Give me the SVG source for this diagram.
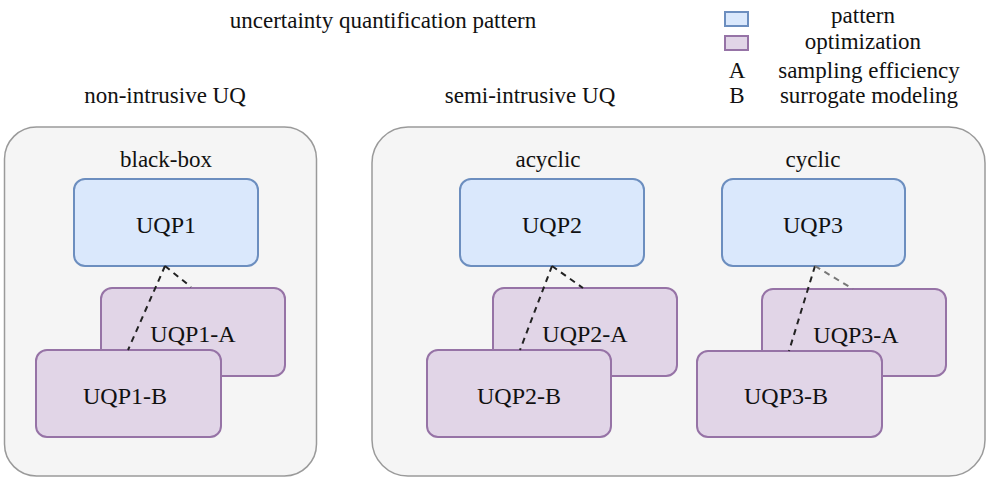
<svg xmlns="http://www.w3.org/2000/svg" width="987" height="481" viewBox="0 0 987 481">
<style>
text{font-family:"Liberation Serif","Times New Roman",serif;font-size:23px;fill:#111;text-anchor:middle}
.node text{font-size:24px}
.cont{fill:#f5f5f5;stroke:#9a9a9a;stroke-width:1.5}
.pat{fill:#dae8fc;stroke:#6c8ebf;stroke-width:2}
.opt{fill:#e1d5e7;stroke:#9673a6;stroke-width:2}
.dash{stroke:#222;stroke-width:2;stroke-dasharray:6 5;fill:none}
.dashg{stroke:#777;stroke-width:2;stroke-dasharray:6 5;fill:none}
</style>
<rect width="987" height="481" fill="#fff"/>
<text x="383" y="28">uncertainty quantification pattern</text>
<g id="legend">
<rect class="pat" x="725" y="12" width="23" height="14"/>
<rect class="opt" x="725" y="36" width="23" height="14"/>
<text x="863" y="23">pattern</text>
<text x="863" y="49">optimization</text>
<text x="737" y="78">A</text>
<text x="869" y="78">sampling efficiency</text>
<text x="737" y="103">B</text>
<text x="869" y="103">surrogate modeling</text>
</g>
<g id="nonintrusive">
<text x="165" y="103">non-intrusive UQ</text>
<rect class="cont" x="4.5" y="127" width="312" height="349" rx="32"/>
<text x="166" y="167">black-box</text>
</g>
<g id="semiintrusive">
<text x="530" y="103">semi-intrusive UQ</text>
<rect class="cont" x="372" y="127" width="613" height="349" rx="36"/>
<text x="548" y="167">acyclic</text>
<text x="813" y="167">cyclic</text>
</g>
<g id="UQP1" class="node"><rect class="pat" x="74" y="179" width="184" height="87" rx="11"/><text x="166" y="233">UQP1</text></g>
<g id="UQP1-A" class="node"><rect class="opt" x="101" y="288" width="184" height="88" rx="11"/><text x="193" y="342">UQP1-A</text></g>
<g id="UQP1-B" class="node"><rect class="opt" x="36" y="350" width="185" height="87" rx="11"/><text x="125" y="404">UQP1-B</text></g>
<g id="UQP2" class="node"><rect class="pat" x="460" y="179" width="184" height="87" rx="11"/><text x="552" y="233">UQP2</text></g>
<g id="UQP2-A" class="node"><rect class="opt" x="493" y="288" width="184" height="88" rx="11"/><text x="585" y="342">UQP2-A</text></g>
<g id="UQP2-B" class="node"><rect class="opt" x="427" y="350" width="184" height="87" rx="11"/><text x="519" y="404">UQP2-B</text></g>
<g id="UQP3" class="node"><rect class="pat" x="722" y="179" width="183" height="87" rx="11"/><text x="813" y="233">UQP3</text></g>
<g id="UQP3-A" class="node"><rect class="opt" x="762" y="289" width="184" height="87" rx="11"/><text x="856" y="343">UQP3-A</text></g>
<g id="UQP3-B" class="node"><rect class="opt" x="697" y="351" width="185" height="86" rx="11"/><text x="786" y="404">UQP3-B</text></g>
<g id="connectors">
<path class="dash" d="M165 266 L128 350"/>
<path class="dash" d="M165 266 L191 287"/>
<path class="dash" d="M552 266 L520 350"/>
<path class="dash" d="M552 266 L583 288"/>
<path class="dash" d="M815 266 L789 351"/>
<path class="dashg" d="M815 266 L853 289"/>
</g>
</svg>
